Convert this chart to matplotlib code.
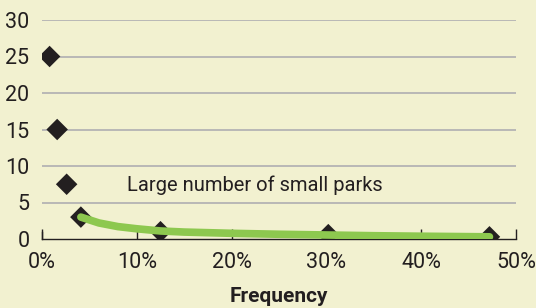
import matplotlib
matplotlib.use("Agg")
import matplotlib.pyplot as plt
from matplotlib.ticker import FuncFormatter

plt.rcParams['font.family'] = ['Roboto', 'DejaVu Sans']

freq = [0.8, 1.6, 2.6, 4.1, 12.5, 30.2, 47.2]
size = [25, 15, 7.5, 3.0, 1.0, 0.6, 0.3]
curve_x = [4.1, 6, 8, 10, 12.5, 15, 20, 25, 30, 35, 40, 47.2]
curve_y = [3.0, 2.2, 1.7, 1.4, 1.1, 0.95, 0.78, 0.65, 0.55, 0.45, 0.38, 0.3]
yticks = [0, 5, 10, 15, 20, 25, 30]
xticks = [0, 10, 20, 30, 40, 50]
note = "Large number of small parks"
xlabel = "Frequency"

bg = '#F2F1D0'
W, H = 536, 308
fig = plt.figure(figsize=(W/100, H/100), dpi=100, facecolor=bg)
ax = fig.add_axes([42/W, 1-239/H, (516-42)/W, (239-20)/H])
ax.set_facecolor(bg)
ax.set_xlim(0, 50)
ax.set_ylim(0, 30)

for y in yticks[1:]:
    ax.axhline(y, color='#B4B4B4', lw=1.3, zorder=1)

ax.scatter(freq, size, marker='D', s=120, color='#231F20', zorder=3, edgecolors='none')
ax.plot(curve_x, curve_y, color='#8DC84F', lw=5.5, solid_capstyle='round', zorder=4)

for s in ['top', 'right', 'left']:
    ax.spines[s].set_visible(False)
ax.spines['bottom'].set_color('#231F20')
ax.spines['bottom'].set_linewidth(1.0)
ax.spines['bottom'].set_zorder(2)

ax.set_xticks(xticks)
ax.xaxis.set_major_formatter(FuncFormatter(lambda v, p: f"{int(v)}%"))
ax.tick_params(axis='x', direction='in', length=7, width=1, color='#231F20',
               labelsize=15.5, labelcolor='#231F20', pad=9)
ax.set_yticks(yticks)
ax.tick_params(axis='y', length=0, labelsize=15.5, labelcolor='#231F20', pad=9)
# small vertical tick at left end of x axis
ax.plot([0, 0], [0, 0.9], color='#231F20', lw=1, clip_on=False, zorder=2)

ax.text(9.0, 7.3, note, fontsize=14.5, color='#231F20', va='center', ha='left')
fig.text(279/W, 1-297/H, xlabel, fontsize=15, fontweight='bold', color='#231F20',
         ha='center', va='center')

fig.savefig('out.png', dpi=100, facecolor=bg)
